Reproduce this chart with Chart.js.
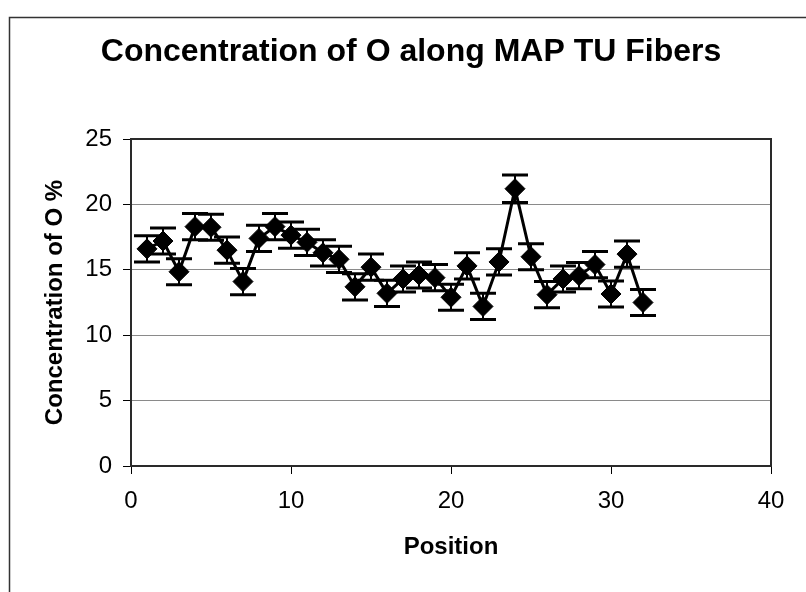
<!DOCTYPE html>
<html>
<head>
<meta charset="utf-8">
<script src="https://cdn.jsdelivr.net/npm/chart.js@4/dist/chart.umd.min.js"></script>
<style>
  html, body { margin: 0; padding: 0; background: #fff; }
  #wrap { width: 806px; height: 592px; }
</style>
</head>
<body>
<div id="wrap"><canvas id="chart" width="806" height="592"></canvas></div>
<script>
// positions along the fiber
const positions = [1, 2, 3, 4, 5, 6, 7, 8, 9, 10, 11, 12, 13, 14, 15, 16,
  17, 18, 19, 20, 21, 22, 23, 24, 25, 26, 27, 28, 29, 30, 31, 32];
// concentration of O (%)
const oxygen = [16.6, 17.2, 14.85, 18.3, 18.25, 16.5, 14.1, 17.4, 18.3, 17.65, 17.1, 16.3,
  15.8, 13.7, 15.2, 13.2, 14.3, 14.6, 14.4, 12.9, 15.3, 12.2, 15.6, 21.2,
  16.0, 13.1, 14.3, 14.55, 15.4, 13.15, 16.2, 12.5];
// +/- error
const oxygenErr = [1.0, 1.0, 1.0, 1.0, 1.0, 1.0, 1.0, 1.0, 1.0, 1.0, 1.0, 1.0,
  1.0, 1.0, 1.0, 1.0, 1.0, 1.0, 1.0, 1.0, 1.0, 1.0, 1.0, 1.05,
  1.0, 1.0, 1.0, 1.0, 1.0, 1.0, 1.0, 1.0];
const xTicks = [0, 10, 20, 30, 40];
const yTicks = [0, 5, 10, 15, 20, 25];

const points = positions.map((p, i) => ({ x: p, y: oxygen[i] }));

// white page + the outer chart frame
const frame = {
  id: 'frame',
  beforeDraw(chart) {
    const ctx = chart.ctx;
    ctx.save();
    ctx.fillStyle = '#fff';
    ctx.fillRect(0, 0, chart.width, chart.height);
    ctx.strokeStyle = '#333';
    ctx.lineWidth = 1.5;
    ctx.beginPath();
    ctx.moveTo(9.5, chart.height);
    ctx.lineTo(9.5, 17.5);
    ctx.lineTo(chart.width, 17.5);
    ctx.stroke();
    ctx.restore();
  },
  beforeDatasetsDraw(chart) {
    const { ctx, chartArea: a } = chart;
    ctx.save();
    ctx.strokeStyle = '#2a2a2a';
    ctx.lineWidth = 2;
    ctx.strokeRect(a.left, a.top, a.right - a.left, a.bottom - a.top);
    ctx.restore();
  }
};

// error bars through the scales
const errorBars = {
  id: 'errorBars',
  afterDatasetsDraw(chart) {
    const { ctx, scales: { x, y } } = chart;
    ctx.save();
    ctx.strokeStyle = '#000';
    positions.forEach((p, i) => {
      const px = x.getPixelForValue(p);
      const top = y.getPixelForValue(oxygen[i] + oxygenErr[i]);
      const bot = y.getPixelForValue(oxygen[i] - oxygenErr[i]);
      ctx.lineWidth = 2;
      ctx.beginPath();
      ctx.moveTo(px, top);
      ctx.lineTo(px, bot);
      ctx.stroke();
      ctx.lineWidth = 3;
      ctx.beginPath();
      ctx.moveTo(px - 13, top);
      ctx.lineTo(px + 13, top);
      ctx.moveTo(px - 13, bot);
      ctx.lineTo(px + 13, bot);
      ctx.stroke();
    });
    ctx.restore();
  }
};

const font = 'Arial, "Liberation Sans", sans-serif';

new Chart(document.getElementById('chart'), {
  type: 'scatter',
  data: {
    datasets: [{
      label: 'O',
      data: points,
      showLine: true,
      borderColor: '#000',
      borderWidth: 3,
      pointStyle: 'rectRot',
      pointRadius: 10,
      pointBackgroundColor: '#000',
      pointBorderColor: '#000',
      pointBorderWidth: 1
    }]
  },
  options: {
    responsive: false,
    animation: false,
    layout: { padding: { left: 51, right: 35, top: 0, bottom: 0 } },
    plugins: {
      legend: { display: false },
      tooltip: { enabled: false },
      title: {
        display: true,
        text: 'Concentration of O along MAP TU Fibers',
        color: '#000',
        font: { family: font, size: 32, weight: 'bold', lineHeight: 1.2 },
        padding: { top: 33, bottom: 67.6 }
      }
    },
    scales: {
      x: {
        type: 'linear',
        min: 0,
        max: 40,
        afterFit(scale) { scale.height = 126; },
        afterBuildTicks(scale) { scale.ticks = xTicks.map(v => ({ value: v })); },
        border: { display: false },
        grid: { drawOnChartArea: false, drawTicks: true, tickLength: 8, tickColor: '#000', tickWidth: 1 },
        ticks: { color: '#000', padding: 13, font: { family: font, size: 24 } },
        title: {
          display: true,
          text: 'Position',
          color: '#000',
          font: { family: font, size: 24, weight: 'bold', lineHeight: 1.2 },
          padding: { top: 0, bottom: 30 }
        }
      },
      y: {
        min: 0,
        max: 25,
        afterFit(scale) { scale.width = 80; },
        afterBuildTicks(scale) { scale.ticks = yTicks.map(v => ({ value: v })); },
        border: { display: false },
        grid: { color: '#8a8a8a', lineWidth: 1, drawTicks: true, tickLength: 8, tickColor: '#000', tickWidth: 1 },
        ticks: { color: '#000', padding: 11, font: { family: font, size: 24 } },
        title: {
          display: true,
          text: 'Concentration of O %',
          color: '#000',
          font: { family: font, size: 24, weight: 'bold', lineHeight: 1 },
          padding: { top: -8, bottom: 0 }
        }
      }
    }
  },
  plugins: [frame, errorBars]
});
</script>
</body>
</html>
